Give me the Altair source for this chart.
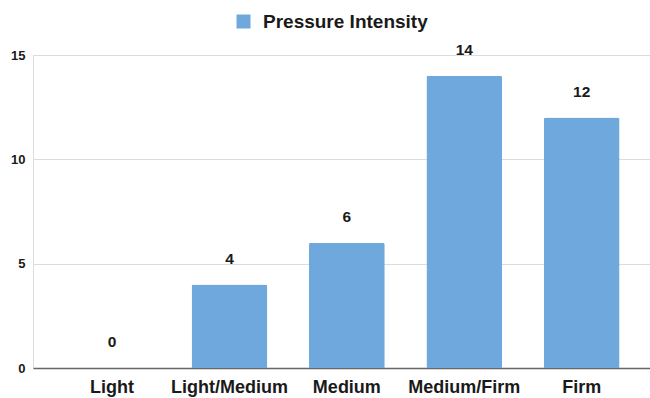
import altair as alt
import pandas as pd

categories = ["Light", "Light/Medium", "Medium", "Medium/Firm", "Firm"]
counts = [0, 4, 6, 14, 12]
series_name = "Pressure Intensity"
y_ticks = [0, 5, 10, 15]

df = pd.DataFrame({"category": categories, "count": counts, "series": series_name})

font = "Liberation Sans"
bar_color = "#6fa8dc"
text_color = "#1a1a1a"

x_enc = alt.X(
    "category:N",
    sort=categories,
    scale=alt.Scale(paddingInner=0.355, paddingOuter=0.305, align=0.575),
    axis=alt.Axis(
        title=None, labelAngle=0, ticks=False, labelPadding=10,
        labelFont=font, labelFontSize=18, labelFontWeight="bold", labelColor=text_color,
        domainColor="#666666", domainWidth=1.5,
    ),
)
y_enc = alt.Y(
    "count:Q",
    scale=alt.Scale(domain=[0, 15], nice=False),
    axis=alt.Axis(
        title=None, values=y_ticks, ticks=False, domain=False, labelPadding=8,
        labelFont=font, labelFontSize=13, labelFontWeight="bold", labelColor=text_color,
        gridColor="#dcdcdc", gridWidth=1,
    ),
)

bars = alt.Chart(df).mark_bar(cornerRadiusTopLeft=2, cornerRadiusTopRight=2).encode(
    x=x_enc,
    y=y_enc,
    color=alt.Color(
        "series:N",
        scale=alt.Scale(range=[bar_color]),
        legend=alt.Legend(
            title=None, orient="none", legendX=201, legendY=-43,
            symbolType="square", symbolSize=196, symbolStrokeWidth=0,
            labelFont=font, labelFontSize=19, labelFontWeight="bold", labelColor=text_color,
            labelOffset=10, labelLimit=400,
        ),
    ),
)

labels = alt.Chart(df).mark_text(
    dy=-26, font=font, fontSize=15.5, fontWeight="bold", color=text_color, baseline="middle"
).encode(x=alt.X("category:N", sort=categories), y="count:Q", text="count:Q")

chart = (
    alt.layer(bars, labels)
    .properties(
        width=617, height=313,
        autosize=alt.AutoSizeParams(type="none"),
        padding={"left": 33, "top": 55, "right": 0, "bottom": 30},
    )
    .configure_view(stroke=None)
    .configure(background="white")
)

chart.save("out.html", embed_options={"renderer": "svg", "actions": False})
